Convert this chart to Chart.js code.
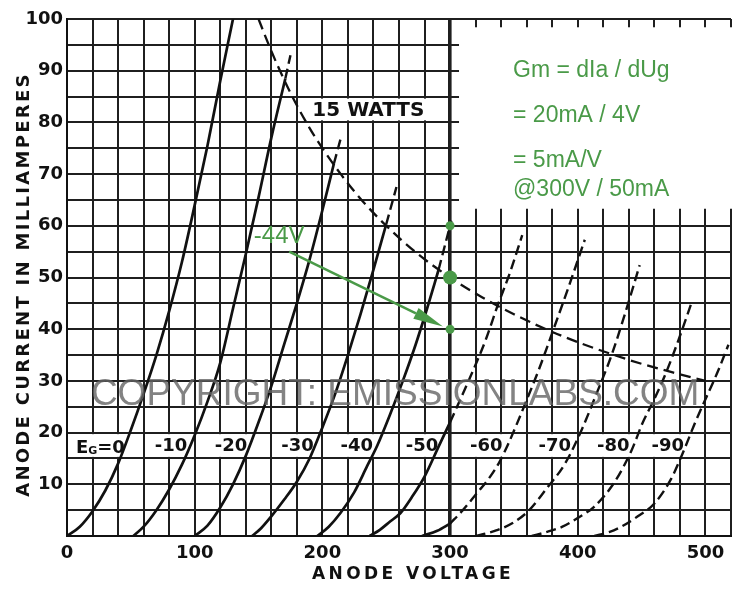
<!DOCTYPE html>
<html>
<head>
<meta charset="utf-8">
<script src="https://cdn.jsdelivr.net/npm/chart.js@4/dist/chart.umd.min.js"></script>
<style>
  html, body { margin: 0; padding: 0; background: #fff; }
  #wrap { width: 738px; height: 589px; }
</style>
</head>
<body>
<div id="wrap"><canvas id="plate" width="738" height="589"></canvas></div>
<script>
// Anode characteristics: [anode volts, anode mA] along each grid-bias curve.
// "X" arrays are the dashed stretches beyond the 15 W limit / above 300 V.
const EG_0   = [[0,0],[10,1.8],[20,4.8],[30,8.8],[40,14],[50,20.5],[60,27.5],[70,35],[80,43.5],[90,53],[100,64],[110,75.5],[120,88],[130,100]];
const EG_10  = [[52,0],[60,1.8],[70,5],[80,9],[90,13.8],[100,19.5],[110,26],[120,33.5],[130,44],[140,54.5],[150,65.5],[160,77],[171,88.5]];
const EG_10X = [[171,88.5],[175,93]];
const EG_20  = [[100,0],[110,2],[120,5.5],[130,10],[140,15.5],[150,22],[160,29],[170,37],[180,45],[190,53.5],[200,63],[209,72]];
const EG_20X = [[209,72],[215,77.5]];
const EG_30  = [[145,0],[152,1.5],[160,3.8],[170,7],[180,10.5],[190,15],[200,21],[210,27.5],[220,35],[230,43],[240,51.5],[250,60.3]];
const EG_30X = [[250,60.3],[258,67.5]];
const EG_40  = [[196,0],[205,1.8],[214,4.4],[225,8.5],[235,13.5],[243,17.5],[253,23.5],[263,30],[273,37],[282,44],[291,51.5]];
const EG_40X = [[291,51.5],[301,61]];
const EG_50  = [[237,0],[245,1.2],[253,2.8],[261,4.4],[270,7.5],[280,11.5],[291,17.3],[300,22]];
const EG_50X = [[300,22],[310,27.5],[318,32],[328,38],[337,44.4],[347,51],[356.5,58.2]];
const EG_60  = [[278,0],[290,1],[300,2.4]];
const EG_60X = [[300,2.4],[310,5],[320,8],[330,11],[338,14],[345,17.5],[352,21.5],[360,26.3],[370,32.5],[380,39.3],[393,48.3],[405.5,57.3]];
const EG_70X = [[320,0],[335,1],[349,2.5],[362,5],[375,9],[390,14],[403,20.5],[413,26.5],[426.5,35],[437,43],[448.5,52.4]];
const EG_80X = [[364,0],[376,0.8],[388,1.8],[400,3.5],[413,5.7],[429,10.5],[442,16.5],[451,22],[460,26.5],[469,31.5],[479,38],[488.5,44.7]];
const EG_90X = [[413,0],[425,0.8],[434,1.8],[447,3.8],[460,6.3],[473,11],[483,16.5],[492,22],[501,27],[510,32],[518,37]];

// Maximum plate dissipation line
const WATTS_15 = [[150,100],[160,93.8],[175,85.7],[190,78.9],[200,75],[215,69.8],[230,65.2],[250,60],[275,54.5],[300,50],[325,46.2],[350,42.9],[375,40],[400,37.5],[425,35.3],[450,33.3],[475,31.6],[500,30]];

// Operating-point markers on the 300 V line
const MARK_V  = [300, 300, 300];
const MARK_MA = [60, 50, 40];

// Grid-bias labels and the anode voltage where each one sits
const BIAS_TEXT = ['-10','-20','-30','-40','-50','-60','-70','-80','-90'];
const BIAS_V    = [81.5, 128.5, 180.5, 227, 278, 328.4, 382, 427.8, 470.5];

// Axis ticks
const X_MIN = 0, X_MAX = 520, X_STEP = 20, X_LABEL_EVERY = 100;
const Y_MIN = 0, Y_MAX = 100, Y_STEP = 5, Y_LABEL_EVERY = 10;

const NOTE_LINES = ['Gm = dIa / dUg', '= 20mA / 4V', '= 5mA/V', '@300V / 50mA'];

const INK = '#111';
const GREEN = '#4a9a48';
const BOLD = 'bold 18px "DejaVu Sans"';

const pts = a => a.map(([x, y]) => ({ x, y }));
const curve = (a, dashed) => ({
  data: pts(a),
  borderColor: INK,
  borderWidth: dashed ? 2.4 : 2.7,
  borderDash: dashed ? [10, 5] : [],
  pointRadius: 0,
  cubicInterpolationMode: 'monotone',
  fill: false,
  order: 2
});

const datasets = [
  curve(EG_0, false),
  curve(EG_10, false), curve(EG_10X, true),
  curve(EG_20, false), curve(EG_20X, true),
  curve(EG_30, false), curve(EG_30X, true),
  curve(EG_40, false), curve(EG_40X, true),
  curve(EG_50, false), curve(EG_50X, true),
  curve(EG_60, false), curve(EG_60X, true),
  curve(EG_70X, true), curve(EG_80X, true), curve(EG_90X, true),
  Object.assign(curve(WATTS_15, true), { borderDash: [11, 6], borderWidth: 2.3 }),
  {
    data: MARK_V.map((v, i) => ({ x: v, y: MARK_MA[i] })),
    showLine: false,
    pointRadius: [4.5, 7, 4.5],
    pointBackgroundColor: GREEN,
    pointBorderWidth: 0,
    order: 0
  }
];

function boxedText(ctx, text, x, yTop, yBot, font) {
  ctx.font = font;
  const w = ctx.measureText(text).width;
  ctx.fillStyle = '#fff';
  ctx.fillRect(x - 3, yTop, w + 6, yBot - yTop);
  ctx.fillStyle = INK;
  ctx.textBaseline = 'middle';
  ctx.textAlign = 'left';
  ctx.fillText(text, x, (yTop + yBot) / 2 + 1);
}

const sheet = {
  id: 'sheet',
  beforeDraw(chart) {
    const ctx = chart.ctx;
    ctx.save();
    ctx.fillStyle = '#fff';
    ctx.fillRect(0, 0, chart.width, chart.height);
    ctx.restore();
  },
  beforeDatasetsDraw(chart) {
    const { ctx, scales: { x, y } } = chart;
    ctx.save();
    // white note panel over the upper right of the grid
    const pl = x.getPixelForValue(307), pt = y.getPixelForValue(98.4), pb = y.getPixelForValue(63.3);
    ctx.fillStyle = '#fff';
    ctx.fillRect(pl, pt, chart.width - pl, pb - pt);

    // bias labels between the 15 and 20 mA lines
    const top = y.getPixelForValue(19.7), bot = y.getPixelForValue(15.3);
    BIAS_TEXT.forEach((t, i) => {
      ctx.font = BOLD;
      const w = ctx.measureText(t).width;
      boxedText(ctx, t, x.getPixelForValue(BIAS_V[i]) - w / 2, top, bot, BOLD);
    });
    // "EG=0" with a subscript G
    const ex = x.getPixelForValue(7);
    ctx.font = BOLD;
    const wE = ctx.measureText('E').width;
    ctx.font = 'bold 11px "DejaVu Sans"';
    const wG = ctx.measureText('G').width;
    ctx.font = BOLD;
    const wR = ctx.measureText('=0').width;
    ctx.fillStyle = '#fff';
    ctx.fillRect(ex - 3, top, wE + wG + wR + 6, bot - top);
    ctx.fillStyle = INK;
    ctx.textBaseline = 'alphabetic';
    const base = (top + bot) / 2 + 7.5;
    ctx.fillText('E', ex, base);
    ctx.font = 'bold 11px "DejaVu Sans"';
    ctx.fillText('G', ex + wE, base + 1);
    ctx.font = BOLD;
    ctx.fillText('=0', ex + wE + wG, base);

    // dissipation label
    const wf = 'bold 20px "DejaVu Sans"';
    ctx.font = wf;
    const ww = ctx.measureText('15 WATTS').width;
    boxedText(ctx, '15 WATTS', x.getPixelForValue(236) - ww / 2, y.getPixelForValue(84.6), y.getPixelForValue(80.4), wf);
    ctx.restore();
  },
  afterDatasetsDraw(chart) {
    const { ctx, scales: { x, y } } = chart;
    ctx.save();
    // watermark
    ctx.font = '37px "Liberation Sans"';
    ctx.fillStyle = 'rgba(100,100,100,0.8)';
    ctx.textAlign = 'center';
    ctx.textBaseline = 'alphabetic';
    ctx.fillText('COPYRIGHT: EMISSIONLABS.COM', x.getPixelForValue(257), y.getPixelForValue(25.3));

    // note text
    const pl = x.getPixelForValue(307), pt = y.getPixelForValue(98.4);
    ctx.font = '23px "Liberation Sans"';
    ctx.fillStyle = GREEN;
    ctx.textAlign = 'left';
    const offs = [50, 95, 140, 169];
    NOTE_LINES.forEach((t, i) => ctx.fillText(t, pl + 54, pt + offs[i]));

    // bias callout and arrow
    ctx.font = '24px "Liberation Sans"';
    ctx.fillText('-44V', x.getPixelForValue(146.3), y.getPixelForValue(56.7));
    const x0 = x.getPixelForValue(174), y0 = y.getPixelForValue(55);
    const x1 = x.getPixelForValue(294.4), y1 = y.getPixelForValue(40.5);
    const ang = Math.atan2(y1 - y0, x1 - x0);
    const L = 30, H = 6;
    const bx = x1 - L * Math.cos(ang), by = y1 - L * Math.sin(ang);
    ctx.strokeStyle = GREEN;
    ctx.lineWidth = 2.5;
    ctx.beginPath();
    ctx.moveTo(x0, y0);
    ctx.lineTo(bx, by);
    ctx.stroke();
    ctx.beginPath();
    ctx.moveTo(x1, y1);
    ctx.lineTo(bx + H * Math.sin(ang), by - H * Math.cos(ang));
    ctx.lineTo(bx - H * Math.sin(ang), by + H * Math.cos(ang));
    ctx.closePath();
    ctx.fillStyle = GREEN;
    ctx.fill();
    ctx.restore();
  },
  afterDraw(chart) {
    const { ctx, chartArea: a } = chart;
    ctx.save();
    ctx.fillStyle = INK;
    ctx.textAlign = 'center';
    ctx.textBaseline = 'alphabetic';
    ctx.font = 'bold 17px "DejaVu Sans"';
    ctx.letterSpacing = '3.4px';
    ctx.fillText('ANODE VOLTAGE', (a.left + a.right) / 2 + 14, 579);
    ctx.font = 'bold 18px "DejaVu Sans"';
    ctx.letterSpacing = '2.3px';
    ctx.translate(29, (a.top + a.bottom) / 2 + 7);
    ctx.rotate(-Math.PI / 2);
    ctx.fillText('ANODE CURRENT IN MILLIAMPERES', 0, 0);
    ctx.restore();
  }
};

new Chart(document.getElementById('plate'), {
  type: 'line',
  data: { datasets },
  options: {
    responsive: false,
    animation: false,
    events: [],
    layout: { padding: { top: 19, right: 1, bottom: 0, left: 0 } },
    plugins: { legend: { display: false }, tooltip: { enabled: false } },
    scales: {
      x: {
        type: 'linear', min: X_MIN, max: X_MAX,
        ticks: {
          stepSize: X_STEP, autoSkip: false, maxRotation: 0, padding: 7,
          color: INK, font: { family: 'DejaVu Sans', weight: 'bold', size: 18 },
          callback: v => (v % X_LABEL_EVERY === 0 ? String(v) : '')
        },
        grid: {
          color: '#1f1f1f',
          lineWidth: c => (c.tick && c.tick.value === 300 ? 3.6 : 2),
          drawTicks: false
        },
        border: { display: true, color: INK, width: 2 },
        afterFit: s => { s.height = 53; }
      },
      y: {
        type: 'linear', min: Y_MIN, max: Y_MAX,
        ticks: {
          stepSize: Y_STEP, autoSkip: false, padding: 4,
          color: INK, font: { family: 'DejaVu Sans', weight: 'bold', size: 18 },
          callback: v => (v % Y_LABEL_EVERY === 0 && v > 0 ? String(v) : '')
        },
        grid: { color: '#1f1f1f', lineWidth: 2, drawTicks: false },
        border: { display: true, color: INK, width: 2 },
        afterFit: s => { s.width = 67; }
      }
    }
  },
  plugins: [sheet]
});
</script>
</body>
</html>
